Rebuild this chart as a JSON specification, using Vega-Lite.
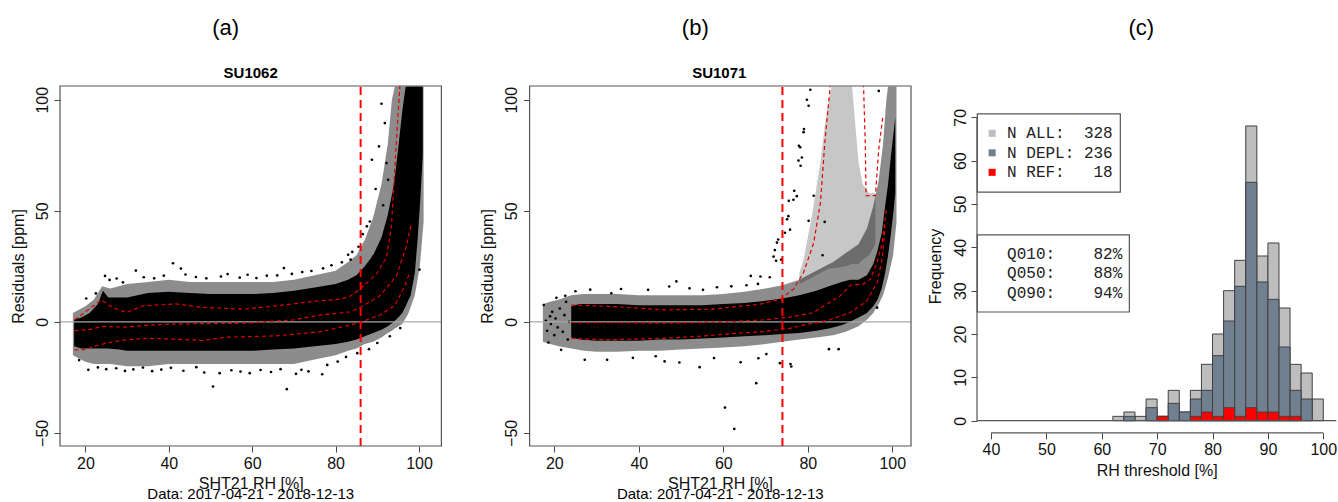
{
"$schema": "https://vega.github.io/schema/vega-lite/v6.json",
"background": "white",
"padding": {"left": 10, "top": 16, "right": 0, "bottom": 0},
"bounds": "flush",
"spacing": 66,
"config": {
  "view": {"stroke": null},
  "font": "Liberation Sans",
  "axis": {"grid": false, "domain": false, "tickColor": "#444", "tickSize": 6, "labelColor": "#111", "titleColor": "#111", "labelFontSize": 16, "titleFontSize": 16, "titleFontWeight": "normal", "labelFont": "Liberation Sans", "titleFont": "Liberation Sans", "labelFlush": false, "labelOverlap": false}
},
"datasets": {
  "one": [{"k": 0}],
  "a_thr": [{"x": 86}],
  "b_thr": [{"x": 74}],
  "a_halo": [
    {"x":17.0,"y":4,"lo":-15},{"x":18,"y":5,"lo":-16},{"x":20,"y":7,"lo":-18},{"x":22,"y":10,"lo":-19},{"x":24,"y":16,"lo":-19},{"x":26,"y":15,"lo":-19},{"x":30,"y":17,"lo":-20},{"x":35,"y":18,"lo":-20},{"x":40,"y":19,"lo":-19},{"x":45,"y":18,"lo":-19},{"x":50,"y":18,"lo":-19},{"x":55,"y":18,"lo":-19},{"x":60,"y":18,"lo":-19},{"x":65,"y":18,"lo":-19},{"x":70,"y":19,"lo":-19},{"x":75,"y":21,"lo":-17},{"x":80,"y":23,"lo":-15},{"x":83,"y":27,"lo":-13},{"x":85,"y":30,"lo":-12},{"x":87,"y":37,"lo":-10},{"x":89,"y":47,"lo":-9},{"x":91,"y":62,"lo":-7},{"x":92.5,"y":80,"lo":-5},{"x":93.5,"y":100,"lo":-4},{"x":94.2,"y":106,"lo":-3},{"x":96,"y":106,"lo":-1},{"x":97.5,"y":106,"lo":4},{"x":99,"y":106,"lo":12},{"x":100.2,"y":106,"lo":25},{"x":101.1,"y":106,"lo":45}
  ],
  "a_core": [
    {"x":17.3,"y":1,"lo":-11},{"x":19,"y":2,"lo":-12},{"x":21,"y":4,"lo":-12},{"x":23,"y":8,"lo":-12},{"x":24.2,"y":14,"lo":-12},{"x":25.5,"y":11,"lo":-12},{"x":28,"y":11,"lo":-12.5},{"x":30,"y":11,"lo":-13},{"x":35,"y":13,"lo":-13},{"x":40,"y":13.5,"lo":-13},{"x":45,"y":13,"lo":-13},{"x":50,"y":12.5,"lo":-13},{"x":55,"y":12.5,"lo":-13},{"x":60,"y":12.5,"lo":-13},{"x":65,"y":13,"lo":-12.5},{"x":70,"y":14,"lo":-12},{"x":75,"y":15.5,"lo":-11},{"x":80,"y":17,"lo":-10},{"x":83,"y":19,"lo":-9},{"x":85,"y":21,"lo":-8},{"x":87,"y":25,"lo":-6.5},{"x":89,"y":30,"lo":-5},{"x":91,"y":38,"lo":-3.5},{"x":92.5,"y":48,"lo":-2},{"x":94,"y":62,"lo":0},{"x":95,"y":78,"lo":2},{"x":96,"y":95,"lo":4},{"x":96.8,"y":106,"lo":7},{"x":98,"y":106,"lo":12},{"x":99,"y":106,"lo":22},{"x":99.7,"y":106,"lo":38},{"x":100.3,"y":106,"lo":55},{"x":100.9,"y":106,"lo":75}
  ],
  "a_pts": [
    {"x":24.7,"y":20.7},{"x":25.8,"y":18.9},{"x":32.1,"y":23.1},{"x":41.0,"y":26.4},{"x":42.9,"y":24.0},{"x":54.1,"y":21.5},{"x":67.6,"y":24.2},{"x":83.0,"y":30.2},{"x":83.6,"y":28.0},{"x":20.2,"y":10.5},{"x":22.5,"y":12.8},{"x":27.5,"y":19.5},{"x":29.0,"y":17.8},{"x":34.0,"y":20.1},{"x":36.5,"y":19.6},{"x":38.8,"y":20.8},{"x":44.0,"y":21.3},{"x":46.5,"y":20.2},{"x":49.0,"y":19.6},{"x":52.5,"y":20.4},{"x":57.0,"y":19.9},{"x":58.9,"y":21.2},{"x":61.0,"y":19.7},{"x":63.5,"y":20.8},{"x":66.0,"y":20.9},{"x":69.5,"y":21.6},{"x":72.0,"y":22.4},{"x":74.2,"y":22.9},{"x":77.0,"y":24.1},{"x":79.0,"y":25.5},{"x":81.5,"y":26.8},{"x":84.0,"y":31.5},{"x":85.5,"y":33.8},{"x":86.5,"y":39.5},{"x":87.5,"y":43.0},{"x":88.2,"y":45.2},{"x":88.7,"y":73.0},{"x":89.6,"y":59.8},{"x":90.4,"y":79.0},{"x":91.0,"y":98.2},{"x":91.8,"y":89.5},{"x":92.2,"y":71.5},{"x":92.6,"y":64.0},{"x":91.4,"y":52.5},{"x":89.0,"y":29.4},
    {"x":18.5,"y":-17.2},{"x":20.7,"y":-21.6},{"x":23.0,"y":-20.5},{"x":25.0,"y":-21.3},{"x":27.4,"y":-20.9},{"x":29.5,"y":-22.1},{"x":31.5,"y":-21.4},{"x":33.8,"y":-20.6},{"x":36.0,"y":-22.2},{"x":38.2,"y":-21.5},{"x":40.5,"y":-20.7},{"x":43.5,"y":-22.0},{"x":46.6,"y":-20.4},{"x":48.5,"y":-22.8},{"x":50.6,"y":-29.1},{"x":52.2,"y":-23.1},{"x":55.0,"y":-21.8},{"x":57.2,"y":-22.4},{"x":59.4,"y":-23.1},{"x":62.0,"y":-21.7},{"x":64.5,"y":-22.6},{"x":66.8,"y":-21.3},{"x":68.3,"y":-30.3},{"x":70.5,"y":-23.4},{"x":71.8,"y":-21.6},{"x":73.5,"y":-22.3},{"x":76.8,"y":-23.6},{"x":78.0,"y":-19.4},{"x":80.5,"y":-17.9},{"x":82.5,"y":-15.8},{"x":85.2,"y":-14.1},{"x":88.0,"y":-12.3},{"x":90.0,"y":-9.5},{"x":93.0,"y":-6.5},{"x":95.5,"y":-2.8},{"x":100.1,"y":23.5}
  ],
  "a_q": [
    {"q":"u","x":17.4,"y":0.9},{"q":"u","x":20,"y":4.5},{"q":"u","x":23.8,"y":9.9},{"q":"u","x":26.5,"y":6.5},{"q":"u","x":29.8,"y":4.2},{"q":"u","x":33.8,"y":7.2},{"q":"u","x":41.8,"y":8.1},{"q":"u","x":47.4,"y":6.6},{"q":"u","x":57.8,"y":5.7},{"q":"u","x":65.8,"y":7.2},{"q":"u","x":74.6,"y":9.2},{"q":"u","x":81,"y":10.2},{"q":"u","x":83.4,"y":11.5},{"q":"u","x":85.8,"y":14.7},{"q":"u","x":89.8,"y":21.5},{"q":"u","x":92.2,"y":29},{"q":"u","x":93.4,"y":43.2},{"q":"u","x":94.4,"y":76},{"q":"u","x":95.4,"y":106},{"q":"u","x":96.5,"y":140},
    {"q":"m","x":17.4,"y":-4},{"q":"m","x":21,"y":-3.5},{"q":"m","x":24,"y":-2},{"q":"m","x":26.5,"y":-2.2},{"q":"m","x":29.8,"y":-2.4},{"q":"m","x":35,"y":-1.5},{"q":"m","x":41.8,"y":-0.9},{"q":"m","x":50,"y":-0.8},{"q":"m","x":57.8,"y":-0.6},{"q":"m","x":65,"y":0.3},{"q":"m","x":70,"y":0.9},{"q":"m","x":76.2,"y":3},{"q":"m","x":83.4,"y":4.5},{"q":"m","x":85.8,"y":6.4},{"q":"m","x":90.6,"y":11.7},{"q":"m","x":94.6,"y":20.7},{"q":"m","x":97,"y":34.2},{"q":"m","x":98.2,"y":44.8},
    {"q":"l","x":17.4,"y":-12.6},{"q":"l","x":20,"y":-12.5},{"q":"l","x":22.5,"y":-10.8},{"q":"l","x":25,"y":-9.5},{"q":"l","x":29.8,"y":-8.1},{"q":"l","x":34.6,"y":-7.4},{"q":"l","x":41.8,"y":-7.8},{"q":"l","x":48.2,"y":-8.4},{"q":"l","x":53.8,"y":-6.9},{"q":"l","x":65.8,"y":-6.3},{"q":"l","x":76.2,"y":-4.5},{"q":"l","x":83.4,"y":-1.5},{"q":"l","x":85.8,"y":-0.2},{"q":"l","x":90.6,"y":3.0},{"q":"l","x":94.2,"y":7.4},{"q":"l","x":96.6,"y":16.3},{"q":"l","x":97.8,"y":22.3}
  ],
  "b_halo": [
    {"x":17.3,"y":8,"lo":-9},{"x":19,"y":9,"lo":-10},{"x":21,"y":10,"lo":-11},{"x":24,"y":12,"lo":-12},{"x":27,"y":12.5,"lo":-13},{"x":30,"y":12.5,"lo":-13.5},{"x":35,"y":12.5,"lo":-13.5},{"x":40,"y":12,"lo":-13},{"x":45,"y":12,"lo":-13},{"x":50,"y":12,"lo":-12.5},{"x":55,"y":12,"lo":-12},{"x":60,"y":12.5,"lo":-11.5},{"x":65,"y":13.5,"lo":-11},{"x":70,"y":15,"lo":-10},{"x":74,"y":16.5,"lo":-9},{"x":78,"y":19,"lo":-8},{"x":82,"y":23,"lo":-7},{"x":86,"y":27,"lo":-6},{"x":89,"y":31,"lo":-4.5},{"x":92,"y":35,"lo":-2},{"x":94,"y":42,"lo":1},{"x":95.5,"y":52,"lo":4},{"x":96.8,"y":64,"lo":8},{"x":97.8,"y":80,"lo":12},{"x":98.6,"y":100,"lo":17},{"x":99,"y":106,"lo":20},{"x":100.2,"y":106,"lo":30},{"x":101,"y":106,"lo":45}
  ],
  "b_plume": [
    {"x":78,"y":22,"lo":17},{"x":79,"y":28,"lo":18},{"x":80,"y":38,"lo":19},{"x":81,"y":48,"lo":20},{"x":82,"y":60,"lo":21},{"x":83,"y":72,"lo":22},{"x":84,"y":88,"lo":23},{"x":85,"y":100,"lo":24},{"x":85.6,"y":106,"lo":24},{"x":89,"y":106,"lo":25},{"x":90.5,"y":106,"lo":26},{"x":91.2,"y":90,"lo":26},{"x":92,"y":72,"lo":26},{"x":93,"y":62,"lo":28},{"x":94.5,"y":58,"lo":30},{"x":96,"y":58,"lo":35}
  ],
  "b_core": [
    {"x":24,"y":7,"lo":-7},{"x":26,"y":8,"lo":-8},{"x":30,"y":8,"lo":-8.5},{"x":35,"y":8,"lo":-8.5},{"x":40,"y":7.5,"lo":-8.5},{"x":45,"y":7.5,"lo":-8},{"x":50,"y":7.5,"lo":-8},{"x":55,"y":7.5,"lo":-7.5},{"x":60,"y":8,"lo":-7},{"x":65,"y":8.5,"lo":-6.5},{"x":70,"y":9.5,"lo":-6},{"x":74,"y":10.5,"lo":-5.5},{"x":78,"y":12,"lo":-5},{"x":82,"y":14,"lo":-4},{"x":85,"y":16,"lo":-3},{"x":88,"y":18,"lo":-1.5},{"x":90,"y":19,"lo":0},{"x":92,"y":19,"lo":2},{"x":94,"y":21,"lo":4},{"x":95.5,"y":26,"lo":7},{"x":96.5,"y":32,"lo":10},{"x":97.5,"y":40,"lo":15},{"x":98.3,"y":52,"lo":22},{"x":99,"y":62,"lo":30},{"x":99.7,"y":75,"lo":40},{"x":100.3,"y":85,"lo":50},{"x":100.7,"y":92,"lo":58}
  ],
  "b_pts": [
    {"x":17.5,"y":7.6},{"x":18.0,"y":0.5},{"x":18.3,"y":-4},{"x":18.6,"y":-9.3},{"x":19.0,"y":2.5},{"x":19.2,"y":-1},{"x":19.5,"y":4.5},{"x":20.0,"y":-6},{"x":20.3,"y":1.5},{"x":20.8,"y":-2.5},{"x":21.3,"y":6},{"x":21.6,"y":-12.6},{"x":22.0,"y":-4.5},{"x":22.4,"y":3},{"x":22.8,"y":9},{"x":23.2,"y":-8},{"x":23.5,"y":0},{"x":20.5,"y":10.8},{"x":22.6,"y":11.7},{"x":25.0,"y":13.8},{"x":27.2,"y":-17.1},{"x":28.5,"y":14.5},{"x":32.5,"y":-17.1},{"x":33.5,"y":12.9},{"x":35.8,"y":14.8},{"x":38.6,"y":-16.2},{"x":42.2,"y":14.4},{"x":44.0,"y":-15.5},{"x":46.1,"y":-17.8},{"x":47.2,"y":15.9},{"x":48.9,"y":18.2},{"x":49.6,"y":-18.3},{"x":52.0,"y":15.1},{"x":54.4,"y":-20.4},{"x":55.2,"y":14.4},{"x":57.8,"y":-16.3},{"x":58.5,"y":15.6},{"x":60.4,"y":-38.6},{"x":61.9,"y":16},{"x":62.6,"y":-48.2},{"x":64.1,"y":-18.2},{"x":65.5,"y":16.5},{"x":66.5,"y":20.7},{"x":67.8,"y":-27.6},{"x":68.2,"y":17.1},{"x":68.3,"y":-16.4},{"x":68.8,"y":20.4},{"x":70.2,"y":-14.5},{"x":71.0,"y":20.1},{"x":71.9,"y":29.4},{"x":72.2,"y":32.3},{"x":72.5,"y":27.5},{"x":72.7,"y":35.7},{"x":73.0,"y":37.1},{"x":73.4,"y":-18.6},{"x":73.7,"y":28},{"x":74.6,"y":40.1},{"x":75.1,"y":46.2},{"x":75.4,"y":47.6},{"x":75.5,"y":54.5},{"x":75.8,"y":41.5},{"x":75.9,"y":-19},{"x":76.1,"y":-20.1},{"x":76.6,"y":55},{"x":76.8,"y":59},{"x":77.4,"y":56.6},{"x":77.8,"y":72.6},{"x":77.9,"y":79.3},{"x":78.2,"y":78.6},{"x":78.3,"y":70.3},{"x":78.6,"y":74},{"x":79.0,"y":85.4},{"x":79.1,"y":86.8},{"x":79.8,"y":100},{"x":80.2,"y":97.3},{"x":80.6,"y":104.5},{"x":80.2,"y":45.5},{"x":81.4,"y":56.8},{"x":85.0,"y":-12.3},{"x":87.3,"y":-12.3},{"x":96.4,"y":6.4},{"x":96.8,"y":104},{"x":83.5,"y":30},{"x":84.0,"y":45}
  ],
  "b_q": [
    {"q":"u","x":24,"y":7.6},{"q":"u","x":33.9,"y":6.9},{"q":"u","x":45.7,"y":5.4},{"q":"u","x":57.5,"y":5.7},{"q":"u","x":68.8,"y":8},{"q":"u","x":73.5,"y":10.2},{"q":"u","x":76.6,"y":14.7},{"q":"u","x":79,"y":22.2},{"q":"u","x":81.4,"y":35.6},{"q":"u","x":83,"y":53.8},{"q":"u","x":84.1,"y":82.3},{"q":"u","x":85.3,"y":106},{"q":"u","x":89,"y":150},{"q":"u","x":93.2,"y":106},{"q":"u","x":93.6,"y":80.8},{"q":"u","x":93.8,"y":56.8},{"q":"u","x":96,"y":56.8},{"q":"u","x":96.8,"y":77.8},{"q":"u","x":97.8,"y":92.8},
    {"q":"m","x":24,"y":-0.3},{"q":"m","x":33.9,"y":-0.3},{"q":"m","x":45.7,"y":-0.6},{"q":"m","x":61.5,"y":0.1},{"q":"m","x":69.4,"y":0.9},{"q":"m","x":75.7,"y":2.1},{"q":"m","x":81.4,"y":4.2},{"q":"m","x":84.5,"y":8},{"q":"m","x":87.7,"y":11.7},{"q":"m","x":90.1,"y":16.5},{"q":"m","x":93.2,"y":17},{"q":"m","x":94.8,"y":19.2},{"q":"m","x":96.4,"y":26.7},{"q":"m","x":97.6,"y":35.6},{"q":"m","x":98.6,"y":50.6},
    {"q":"l","x":24,"y":-7.4},{"q":"l","x":32.3,"y":-8.1},{"q":"l","x":45.7,"y":-7.4},{"q":"l","x":53.6,"y":-6.6},{"q":"l","x":61.5,"y":-5.4},{"q":"l","x":69.4,"y":-4.4},{"q":"l","x":75.7,"y":-2.9},{"q":"l","x":80,"y":-1.0},{"q":"l","x":84.5,"y":0.5},{"q":"l","x":90.1,"y":4.2},{"q":"l","x":94,"y":9.5},{"q":"l","x":96.4,"y":17.7},{"q":"l","x":97.6,"y":28.2},{"q":"l","x":98.3,"y":43}
  ],
  "hist": [
    {"g":"ALL","x":62,"x2":64,"n":1},{"g":"ALL","x":64,"x2":66,"n":2},{"g":"ALL","x":66,"x2":68,"n":1},{"g":"ALL","x":68,"x2":70,"n":5},{"g":"ALL","x":70,"x2":72,"n":1},{"g":"ALL","x":72,"x2":74,"n":7},{"g":"ALL","x":74,"x2":76,"n":2},{"g":"ALL","x":76,"x2":78,"n":7},{"g":"ALL","x":78,"x2":80,"n":13},{"g":"ALL","x":80,"x2":82,"n":20},{"g":"ALL","x":82,"x2":84,"n":30},{"g":"ALL","x":84,"x2":86,"n":37},{"g":"ALL","x":86,"x2":88,"n":68},{"g":"ALL","x":88,"x2":90,"n":38},{"g":"ALL","x":90,"x2":92,"n":41},{"g":"ALL","x":92,"x2":94,"n":26},{"g":"ALL","x":94,"x2":96,"n":13},{"g":"ALL","x":96,"x2":98,"n":11},{"g":"ALL","x":98,"x2":100,"n":5},
    {"g":"DEPL","x":62,"x2":64,"n":0},{"g":"DEPL","x":64,"x2":66,"n":1},{"g":"DEPL","x":66,"x2":68,"n":0},{"g":"DEPL","x":68,"x2":70,"n":3},{"g":"DEPL","x":70,"x2":72,"n":1},{"g":"DEPL","x":72,"x2":74,"n":4},{"g":"DEPL","x":74,"x2":76,"n":2},{"g":"DEPL","x":76,"x2":78,"n":5},{"g":"DEPL","x":78,"x2":80,"n":7},{"g":"DEPL","x":80,"x2":82,"n":15},{"g":"DEPL","x":82,"x2":84,"n":23},{"g":"DEPL","x":84,"x2":86,"n":31},{"g":"DEPL","x":86,"x2":88,"n":55},{"g":"DEPL","x":88,"x2":90,"n":32},{"g":"DEPL","x":90,"x2":92,"n":28},{"g":"DEPL","x":92,"x2":94,"n":17},{"g":"DEPL","x":94,"x2":96,"n":7},{"g":"DEPL","x":96,"x2":98,"n":5},{"g":"DEPL","x":98,"x2":100,"n":0},
    {"g":"REF","x":62,"x2":64,"n":0},{"g":"REF","x":64,"x2":66,"n":0},{"g":"REF","x":66,"x2":68,"n":0},{"g":"REF","x":68,"x2":70,"n":0},{"g":"REF","x":70,"x2":72,"n":1},{"g":"REF","x":72,"x2":74,"n":0},{"g":"REF","x":74,"x2":76,"n":0},{"g":"REF","x":76,"x2":78,"n":1},{"g":"REF","x":78,"x2":80,"n":2},{"g":"REF","x":80,"x2":82,"n":1},{"g":"REF","x":82,"x2":84,"n":3},{"g":"REF","x":84,"x2":86,"n":1},{"g":"REF","x":86,"x2":88,"n":3},{"g":"REF","x":88,"x2":90,"n":2},{"g":"REF","x":90,"x2":92,"n":2},{"g":"REF","x":92,"x2":94,"n":1},{"g":"REF","x":94,"x2":96,"n":1},{"g":"REF","x":96,"x2":98,"n":0},{"g":"REF","x":98,"x2":100,"n":0}
  ]
},
"hconcat": [
  {
    "width": 381.4, "height": 360,
    "layer": [
      {"data": {"name": "a_halo"}, "mark": {"type": "area", "color": "#000", "opacity": 0.45},
       "encoding": {
         "x": {"field": "x", "type": "quantitative", "scale": {"domain": [13.91, 105.37], "nice": false, "zero": false}, "axis": {"values": [20,40,60,80,100], "title": "SHT21 RH [%]", "labelPadding": 3, "titlePadding": 4}},
         "y": {"field": "y", "type": "quantitative", "scale": {"domain": [-55.9, 106.2], "nice": false, "zero": false}, "axis": {"values": [-50,0,50,100], "title": "Residuals [ppm]", "labelAngle": 270, "labelAlign": "center", "labelBaseline": "alphabetic", "labelPadding": 7, "titlePadding": 8}},
         "y2": {"field": "lo"}}},
      {"data": {"name": "a_core"}, "mark": {"type": "area", "color": "#000"}, "encoding": {"x": {"field": "x", "type": "quantitative"}, "y": {"field": "y", "type": "quantitative"}, "y2": {"field": "lo"}}},
      {"data": {"name": "a_pts"}, "mark": {"type": "point", "filled": true, "shape": "circle", "size": 7, "color": "#000", "opacity": 1}, "encoding": {"x": {"field": "x", "type": "quantitative"}, "y": {"field": "y", "type": "quantitative"}}},
      {"data": {"name": "one"}, "mark": {"type": "rule", "color": "#A8A8A8", "strokeWidth": 1.2}, "encoding": {"x": {"datum": 13.91}, "x2": {"datum": 105.37}, "y": {"datum": 0}}},
      {"data": {"name": "a_q"}, "mark": {"type": "line", "color": "#E00000", "strokeWidth": 1.2, "strokeDash": [4, 3], "clip": true}, "encoding": {"x": {"field": "x", "type": "quantitative"}, "y": {"field": "y", "type": "quantitative"}, "detail": {"field": "q"}}},
      {"data": {"name": "a_thr"}, "mark": {"type": "rule", "color": "#FF0000", "strokeWidth": 2, "strokeDash": [8, 5]}, "encoding": {"x": {"field": "x", "type": "quantitative"}, "y": {"datum": -55.9}, "y2": {"datum": 106.2}}},
      {"data": {"name": "one"}, "mark": {"type": "rect", "filled": false, "color": "#555", "strokeWidth": 1.2}, "encoding": {"x": {"datum": 13.91}, "x2": {"datum": 105.37}, "y": {"datum": -55.9}, "y2": {"datum": 106.2}}},
      {"data": {"name": "one"}, "mark": {"type": "text", "fontSize": 22, "color": "#000", "baseline": "middle", "align": "center"}, "encoding": {"x": {"datum": 53.65}, "y": {"datum": 132.4}, "text": {"value": "(a)"}}},
      {"data": {"name": "one"}, "mark": {"type": "text", "fontSize": 15, "fontWeight": "bold", "color": "#000", "baseline": "middle", "align": "center"}, "encoding": {"x": {"datum": 59.64}, "y": {"datum": 111.9}, "text": {"value": "SU1062"}}},
      {"data": {"name": "one"}, "mark": {"type": "text", "fontSize": 15, "color": "#000", "baseline": "alphabetic", "align": "center"}, "encoding": {"x": {"datum": 59.64}, "y": {"datum": -79.6}, "text": {"value": "Data: 2017-04-21 - 2018-12-13"}}}
    ]
  },
  {
    "width": 403, "height": 360,
    "layer": [
      {"data": {"name": "b_halo"}, "mark": {"type": "area", "color": "#000", "opacity": 0.45},
       "encoding": {
         "x": {"field": "x", "type": "quantitative", "scale": {"domain": [9.04, 104.43], "nice": false, "zero": false}, "axis": {"values": [20,40,60,80,100], "title": "SHT21 RH [%]", "labelPadding": 3, "titlePadding": 4, "titleX": 212, "titleAlign": "center"}},
         "y": {"field": "y", "type": "quantitative", "scale": {"domain": [-55.9, 106.2], "nice": false, "zero": false}, "axis": {"values": [-50,0,50,100], "title": "Residuals [ppm]", "offset": -21.6, "labelAngle": 270, "labelAlign": "center", "labelBaseline": "alphabetic", "labelPadding": 7, "titlePadding": 8}},
         "y2": {"field": "lo"}}},
      {"data": {"name": "b_plume"}, "mark": {"type": "area", "color": "#000", "opacity": 0.22}, "encoding": {"x": {"field": "x", "type": "quantitative"}, "y": {"field": "y", "type": "quantitative"}, "y2": {"field": "lo"}}},
      {"data": {"name": "b_core"}, "mark": {"type": "area", "color": "#000"}, "encoding": {"x": {"field": "x", "type": "quantitative"}, "y": {"field": "y", "type": "quantitative"}, "y2": {"field": "lo"}}},
      {"data": {"name": "b_pts"}, "mark": {"type": "point", "filled": true, "shape": "circle", "size": 7, "color": "#000", "opacity": 1}, "encoding": {"x": {"field": "x", "type": "quantitative"}, "y": {"field": "y", "type": "quantitative"}}},
      {"data": {"name": "one"}, "mark": {"type": "rule", "color": "#A8A8A8", "strokeWidth": 1.2}, "encoding": {"x": {"datum": 14.15}, "x2": {"datum": 104.43}, "y": {"datum": 0}}},
      {"data": {"name": "b_q"}, "mark": {"type": "line", "color": "#E00000", "strokeWidth": 1.2, "strokeDash": [4, 3], "clip": true}, "encoding": {"x": {"field": "x", "type": "quantitative"}, "y": {"field": "y", "type": "quantitative"}, "detail": {"field": "q"}}},
      {"data": {"name": "b_thr"}, "mark": {"type": "rule", "color": "#FF0000", "strokeWidth": 2, "strokeDash": [8, 5]}, "encoding": {"x": {"field": "x", "type": "quantitative"}, "y": {"datum": -55.9}, "y2": {"datum": 106.2}}},
      {"data": {"name": "one"}, "mark": {"type": "rect", "filled": false, "color": "#555", "strokeWidth": 1.2}, "encoding": {"x": {"datum": 14.15}, "x2": {"datum": 104.43}, "y": {"datum": -55.9}, "y2": {"datum": 106.2}}},
      {"data": {"name": "one"}, "mark": {"type": "text", "fontSize": 22, "color": "#000", "baseline": "middle", "align": "center"}, "encoding": {"x": {"datum": 53.37}, "y": {"datum": 132.4}, "text": {"value": "(b)"}}},
      {"data": {"name": "one"}, "mark": {"type": "text", "fontSize": 15, "fontWeight": "bold", "color": "#000", "baseline": "middle", "align": "center"}, "encoding": {"x": {"datum": 59.05}, "y": {"datum": 111.9}, "text": {"value": "SU1071"}}},
      {"data": {"name": "one"}, "mark": {"type": "text", "fontSize": 15, "color": "#000", "baseline": "alphabetic", "align": "center"}, "encoding": {"x": {"datum": 59.29}, "y": {"datum": -79.6}, "text": {"value": "Data: 2017-04-21 - 2018-12-13"}}}
    ]
  },
  {
    "width": 359.3, "height": 360,
    "layer": [
      {"data": {"name": "hist"}, "transform": [{"filter": "datum.n > 0"}], "mark": {"type": "rect", "stroke": "#404040", "strokeWidth": 1, "opacity": 1},
       "encoding": {
         "x": {"field": "x", "type": "quantitative", "scale": {"domain": [37.47, 102.35], "nice": false, "zero": false}, "axis": {"values": [40,50,60,70,80,90,100], "title": "RH threshold [%]", "offset": -13.2, "labelPadding": 3, "titlePadding": 5}},
         "x2": {"field": "x2"},
         "y": {"field": "n", "type": "quantitative", "scale": {"domain": [-5.84, 77.22], "nice": false, "zero": false}, "axis": {"values": [0,10,20,30,40,50,60,70], "title": "Frequency", "labelAngle": 270, "labelAlign": "center", "labelBaseline": "alphabetic", "labelPadding": 6, "titlePadding": 9}},
         "y2": {"datum": 0},
         "color": {"field": "g", "type": "nominal", "scale": {"domain": ["ALL","DEPL","REF"], "range": ["#BEBEBE","#708090","#FF0000"]}, "legend": null}}},
      {"data": {"name": "one"}, "mark": {"type": "rule", "color": "#555", "strokeWidth": 1.2}, "encoding": {"x": {"datum": 37.47}, "x2": {"datum": 102.35}, "y": {"datum": 0}}},
      {"data": {"name": "one"}, "mark": {"type": "rule", "color": "#555", "strokeWidth": 1.2}, "encoding": {"x": {"datum": 37.47}, "y": {"datum": 0}, "y2": {"datum": 70}}},
      {"data": {"name": "one"}, "mark": {"type": "rule", "color": "#555", "strokeWidth": 1.2}, "encoding": {"x": {"datum": 40}, "x2": {"datum": 100}, "y": {"datum": -2.8}}},
      {"data": {"name": "one"}, "mark": {"type": "rect", "fill": "white", "stroke": "#555", "strokeWidth": 1.2}, "encoding": {"x": {"datum": 37.53}, "x2": {"datum": 63.35}, "y": {"datum": 52.73}, "y2": {"datum": 70.77}}},
      {"data": {"name": "one"}, "mark": {"type": "rect", "fill": "white", "stroke": "#555", "strokeWidth": 1.2}, "encoding": {"x": {"datum": 37.53}, "x2": {"datum": 64.98}, "y": {"datum": 25.08}, "y2": {"datum": 42.85}}},
      {"data": {"name": "one"}, "mark": {"type": "point", "shape": "square", "filled": true, "size": 50, "color": "#BEBEBE", "opacity": 1}, "encoding": {"x": {"datum": 40.2}, "y": {"datum": 66.3}}},
      {"data": {"name": "one"}, "mark": {"type": "point", "shape": "square", "filled": true, "size": 50, "color": "#708090", "opacity": 1}, "encoding": {"x": {"datum": 40.2}, "y": {"datum": 61.8}}},
      {"data": {"name": "one"}, "mark": {"type": "point", "shape": "square", "filled": true, "size": 50, "color": "#FF0000", "opacity": 1}, "encoding": {"x": {"datum": 40.2}, "y": {"datum": 57.3}}},
      {"data": {"name": "one"}, "mark": {"type": "text", "font": "Liberation Mono", "fontSize": 16, "color": "#222", "align": "left", "baseline": "middle", "lineHeight": 19.5}, "encoding": {"x": {"datum": 42.9}, "y": {"datum": 66.3}, "text": {"value": ["N ALL:\u00a0\u00a0328", "N DEPL:\u00a0236", "N REF:\u00a0\u00a0\u00a018"]}}},
      {"data": {"name": "one"}, "mark": {"type": "text", "font": "Liberation Mono", "fontSize": 16, "color": "#222", "align": "left", "baseline": "middle", "lineHeight": 19.5}, "encoding": {"x": {"datum": 42.9}, "y": {"datum": 38.5}, "text": {"value": ["Q010:\u00a0\u00a0\u00a0\u00a082%", "Q050:\u00a0\u00a0\u00a0\u00a088%", "Q090:\u00a0\u00a0\u00a0\u00a094%"]}}},
      {"data": {"name": "one"}, "mark": {"type": "text", "fontSize": 22, "color": "#000", "baseline": "middle", "align": "center"}, "encoding": {"x": {"datum": 67.14}, "y": {"datum": 90.6}, "text": {"value": "(c)"}}}
    ]
  }
]
}
